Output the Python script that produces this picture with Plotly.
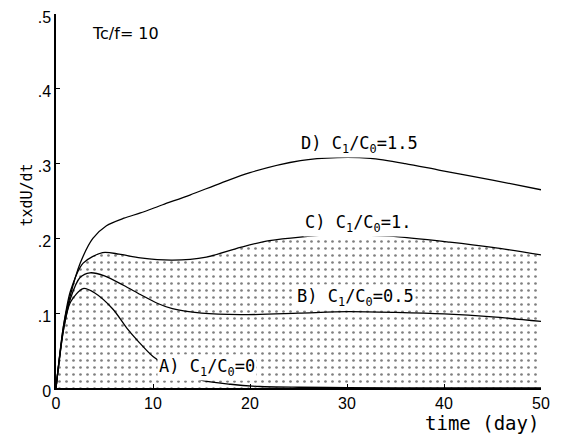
import plotly.graph_objects as go

# Curve data (time in days, t*dU/dt)
xA = [0, 0.8, 1.5, 2.8, 4.0, 5.9, 7.3, 8.5, 10, 12, 14.8, 18, 21, 25, 30, 40, 50]
yA = [0, 0.08, 0.115, 0.133, 0.127, 0.105, 0.08, 0.062, 0.042, 0.025, 0.011, 0.005, 0.002, 0.001, 0.0005, 0.0002, 0.0001]

xB = [0, 0.8, 1.5, 2.5, 3.5, 5, 7, 8.7, 10.5, 12, 15, 19, 25, 30, 35, 40, 45, 50]
yB = [0, 0.08, 0.12, 0.148, 0.154, 0.15, 0.137, 0.125, 0.113, 0.106, 0.1, 0.098, 0.1, 0.102, 0.101, 0.099, 0.095, 0.089]

xC = [0, 0.8, 1.5, 2.8, 4.8, 6.5, 8.7, 12, 15.5, 19, 22, 28.6, 34.4, 40.6, 45, 50]
yC = [0, 0.085, 0.13, 0.167, 0.181, 0.179, 0.174, 0.171, 0.175, 0.188, 0.197, 0.205, 0.203, 0.195, 0.188, 0.178]

xD = [0, 0.8, 1.44, 2.5, 3.8, 5.2, 7, 8.7, 11, 13.8, 17, 20, 25.2, 29, 32.4, 36, 39.6, 45, 50]
yD = [0, 0.085, 0.122, 0.167, 0.2, 0.217, 0.227, 0.234, 0.245, 0.258, 0.274, 0.288, 0.304, 0.308, 0.307, 0.3, 0.291, 0.278, 0.265]

x_ticks = [0, 10, 20, 30, 40, 50]
y_ticks = [0, 0.1, 0.2, 0.3, 0.4, 0.5]
y_ticktext = ["0", ".1", ".2", ".3", ".4", ".5"]

labels = [
    ("D) C<sub>1</sub>/C<sub>0</sub>=1.5", 25.0, 0.325),
    ("C) C<sub>1</sub>/C<sub>0</sub>=1.", 25.5, 0.22),
    ("B) C<sub>1</sub>/C<sub>0</sub>=0.5", 24.6, 0.121),
    ("A) C<sub>1</sub>/C<sub>0</sub>=0", 10.4, 0.027),
]

line = dict(color="black", width=1.3, shape="spline", smoothing=0.8)
fig = go.Figure()
fig.add_trace(go.Scatter(
    x=xC, y=yC, mode="lines", line=line, fill="tozeroy", fillcolor="white",
    fillpattern=dict(shape=".", size=7, solidity=0.12, fgcolor="black", bgcolor="white"),
))
for xs, ys in [(xA, yA), (xB, yB), (xD, yD)]:
    fig.add_trace(go.Scatter(x=xs, y=ys, mode="lines", line=line))

mono = dict(family="DejaVu Sans Mono", size=17, color="black")
for txt, lx, ly in labels:
    fig.add_annotation(x=lx, y=ly, text=txt, showarrow=False, xanchor="left",
                       yanchor="middle", font=mono, bgcolor="white", borderpad=1)

fig.add_annotation(x=3.5, y=0.474, text="Tc/f= 10", showarrow=False, xanchor="left",
                   yanchor="middle", font=dict(family="DejaVu Sans", size=16, color="black"))
fig.add_annotation(x=50, y=-0.093, xref="x", yref="paper", text="time (day)", showarrow=False,
                   xanchor="right", yanchor="middle",
                   font=dict(family="DejaVu Sans Mono", size=19, color="black"))
fig.add_annotation(x=-0.082, y=0.515, xref="paper", yref="paper", text="txdU/dt", showarrow=False,
                   textangle=-90, font=dict(family="DejaVu Sans Mono", size=15, color="black"))

# page body adds an 8px offset; sizes/margins compensate so the plot area lands at
# x 56..541, y 13.5..388.5 in the 563x436 window
fig.update_layout(
    width=555, height=428,
    margin=dict(l=48, r=22, t=5.5, b=47.5, autoexpand=False),
    paper_bgcolor="white", plot_bgcolor="white",
    showlegend=False,
    font=dict(family="Liberation Sans", size=16, color="black"),
)
fig.update_xaxes(range=[0, 50], tickvals=x_ticks, ticks="inside", ticklen=4,
                 showline=True, linecolor="black", linewidth=1.5, showgrid=False,
                 zeroline=False, tickcolor="black", automargin=False,
                 ticklabeloverflow="allow")
fig.update_yaxes(range=[0, 0.5], tickvals=y_ticks, ticktext=y_ticktext, ticks="inside",
                 ticklen=4, showline=True, linecolor="black", linewidth=1.5, showgrid=False,
                 zeroline=False, tickcolor="black", automargin=False,
                 ticklabeloverflow="allow", ticklabelshift=3)

fig.write_html("out.html")
